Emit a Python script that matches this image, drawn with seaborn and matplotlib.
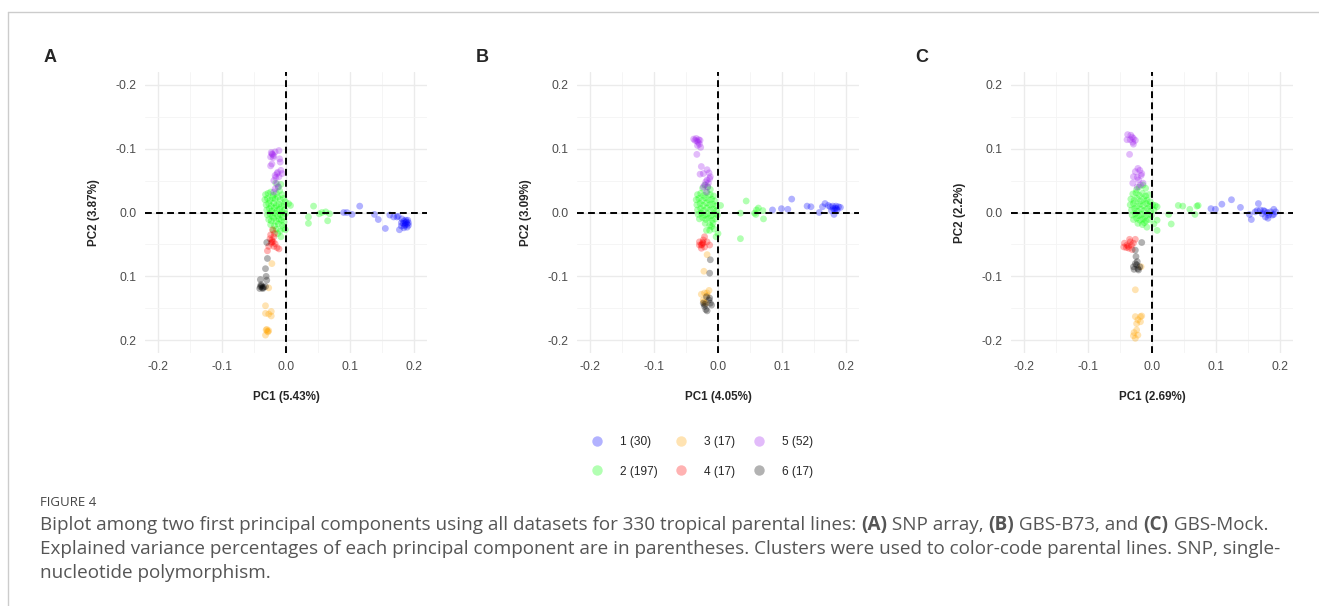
import pandas as pd
import seaborn as sns
import matplotlib.pyplot as plt
from matplotlib.lines import Line2D

# ---- cluster meta ----
CLUSTER_LABELS = ['1 (30)', '2 (197)', '3 (17)', '4 (17)', '5 (52)', '6 (17)']
CLUSTER_COLORS = ['#0000FF', '#00FF00', '#FFA500', '#FF0000', '#A020F0', '#000000']

PANEL_LETTERS = ['A', 'B', 'C']
PC1_LABELS = ['PC1 (5.43%)', 'PC1 (4.05%)', 'PC1 (2.69%)']
PC2_LABELS = ['PC2 (3.87%)', 'PC2 (3.09%)', 'PC2 (2.2%)']
TICKS = [-0.2, -0.1, 0.0, 0.1, 0.2]
TICK_LABELS = ['-0.2', '-0.1', '0.0', '0.1', '0.2']
MINOR_TICKS = [-0.15, -0.05, 0.05, 0.15]

# ---- panel A: SNP array (PC1, PC2) ----
A_1 = [(0.090, 0.000), (0.095, 0.000), (0.103, 0.003), (0.115, -0.010), (0.138, 0.003), (0.144, 0.011),
       (0.155, 0.025), (0.162, 0.004), (0.168, 0.007), (0.175, 0.006), (0.181, 0.010), (0.184, 0.013),
       (0.186, 0.016), (0.189, 0.018), (0.191, 0.016), (0.185, 0.021), (0.180, 0.021), (0.177, 0.027),
       (0.184, 0.024), (0.189, 0.023), (0.187, 0.012), (0.190, 0.012), (0.180, 0.016), (0.173, 0.007),
       (0.188, 0.015), (0.186, 0.019), (0.191, 0.020), (0.183, 0.017)]
A_2 = [(-0.032, -0.028), (-0.028, -0.030), (-0.024, -0.032), (-0.020, -0.027), (-0.015, -0.030), (-0.010, -0.034),
       (-0.006, -0.028), (-0.012, -0.040), (-0.008, -0.044), (-0.016, -0.046),
       (-0.033, -0.020), (-0.029, -0.022), (-0.025, -0.019), (-0.021, -0.023), (-0.017, -0.021), (-0.013, -0.024),
       (-0.009, -0.020), (-0.004, -0.022), (-0.001, -0.017),
       (-0.031, -0.012), (-0.027, -0.014), (-0.023, -0.010), (-0.019, -0.015), (-0.015, -0.011), (-0.011, -0.013),
       (-0.007, -0.010), (-0.003, -0.012), (0.004, -0.014),
       (-0.030, -0.004), (-0.026, -0.006), (-0.022, -0.002), (-0.018, -0.007), (-0.014, -0.003), (-0.010, -0.005),
       (-0.006, -0.001), (-0.002, -0.004),
       (-0.029, 0.004), (-0.025, 0.002), (-0.021, 0.006), (-0.017, 0.001), (-0.013, 0.005), (-0.009, 0.003),
       (-0.005, 0.007), (-0.001, 0.002),
       (-0.027, 0.011), (-0.023, 0.013), (-0.019, 0.009), (-0.015, 0.014), (-0.011, 0.010), (-0.007, 0.012),
       (-0.003, 0.015),
       (-0.024, 0.019), (-0.018, 0.021), (-0.012, 0.018), (-0.006, 0.020), (-0.015, 0.026), (-0.009, 0.029),
       (-0.020, 0.028), (-0.004, 0.025), (-0.008, 0.038), (-0.013, 0.033), (-0.001, 0.027),
       (0.007, -0.011), (0.043, -0.010), (0.035, 0.007), (0.035, 0.017), (0.052, 0.002), (0.056, 0.000),
       (0.062, -0.001), (0.068, 0.002), (0.065, 0.013)]
A_3 = [(-0.022, 0.080), (-0.027, 0.118), (-0.032, 0.146), (-0.032, 0.158), (-0.027, 0.159), (-0.023, 0.155),
       (-0.023, 0.162), (-0.030, 0.183), (-0.029, 0.186), (-0.032, 0.192), (-0.031, 0.184), (-0.027, 0.185),
       (-0.028, 0.187)]
A_4 = [(-0.021, 0.027), (-0.024, 0.035), (-0.019, 0.038), (-0.022, 0.043), (-0.023, 0.048), (-0.019, 0.053),
       (-0.014, 0.055), (-0.027, 0.053), (-0.020, 0.046), (-0.025, 0.041), (-0.018, 0.033), (-0.011, 0.057),
       (-0.029, 0.060), (-0.017, 0.049), (-0.022, 0.046)]
A_5 = [(-0.022, -0.092), (-0.019, -0.089), (-0.024, -0.087), (-0.017, -0.095), (-0.011, -0.097), (-0.021, -0.091),
       (-0.023, -0.094), (-0.020, -0.086), (-0.022, -0.076), (-0.024, -0.073), (-0.009, -0.079), (-0.010, -0.084),
       (-0.017, -0.058), (-0.014, -0.061), (-0.011, -0.056), (-0.006, -0.061), (-0.016, -0.055), (-0.013, -0.063),
       (-0.008, -0.066), (-0.019, -0.050), (-0.014, -0.045), (-0.017, -0.037), (-0.019, -0.032), (-0.012, -0.040)]
A_6 = [(-0.030, 0.047), (-0.029, 0.072), (-0.032, 0.088), (-0.040, 0.105), (-0.031, 0.100), (-0.030, 0.106),
       (-0.040, 0.116), (-0.038, 0.115), (-0.035, 0.117), (-0.041, 0.119), (-0.036, 0.119), (-0.032, 0.116),
       (-0.039, 0.113), (-0.037, 0.118)]

# ---- panel B: GBS-B73 ----
B_1 = [(0.085, 0.004), (0.099, 0.006), (0.109, 0.005), (0.115, 0.021), (0.139, 0.010), (0.145, 0.009),
       (0.158, 0.000), (0.163, 0.009), (0.167, 0.014), (0.172, 0.011), (0.175, 0.009), (0.180, 0.006),
       (0.182, 0.004), (0.185, 0.006), (0.188, 0.009), (0.191, 0.008), (0.181, -0.003), (0.177, 0.003),
       (0.184, 0.010), (0.186, 0.004), (0.183, 0.007), (0.179, 0.010)]
B_2 = [(-0.020, 0.043), (-0.016, 0.040), (-0.024, 0.038), (-0.012, 0.036),
       (-0.032, 0.028), (-0.027, 0.030), (-0.022, 0.027), (-0.017, 0.031), (-0.012, 0.028), (-0.007, 0.026),
       (-0.034, 0.020), (-0.030, 0.022), (-0.025, 0.019), (-0.020, 0.023), (-0.015, 0.020), (-0.010, 0.021),
       (-0.005, 0.018),
       (-0.033, 0.012), (-0.028, 0.014), (-0.023, 0.011), (-0.018, 0.015), (-0.013, 0.012), (-0.008, 0.013),
       (-0.003, 0.010), (0.004, 0.011),
       (-0.032, 0.004), (-0.027, 0.006), (-0.022, 0.003), (-0.017, 0.007), (-0.012, 0.004), (-0.007, 0.005),
       (-0.002, 0.003),
       (-0.031, -0.003), (-0.026, -0.001), (-0.021, -0.004), (-0.016, -0.002), (-0.011, -0.005), (-0.006, -0.002),
       (-0.001, -0.004),
       (-0.029, -0.010), (-0.024, -0.008), (-0.019, -0.011), (-0.014, -0.009), (-0.009, -0.012), (-0.004, -0.010),
       (-0.020, -0.017), (-0.013, -0.020), (-0.008, -0.017), (-0.018, -0.028), (-0.013, -0.028), (-0.010, -0.022),
       (-0.003, -0.038), (0.000, -0.033), (-0.006, -0.026),
       (0.044, 0.018), (0.035, -0.001), (0.057, -0.001), (0.060, 0.004), (0.063, 0.007), (0.070, 0.003),
       (0.071, -0.010), (0.035, -0.041), (0.059, -0.003)]
B_3 = [(-0.017, -0.066), (-0.022, -0.092), (-0.026, -0.128), (-0.021, -0.126), (-0.017, -0.126), (-0.014, -0.122),
       (-0.022, -0.140), (-0.023, -0.137), (-0.019, -0.142), (-0.017, -0.130)]
B_4 = [(-0.021, -0.038), (-0.029, -0.046), (-0.026, -0.051), (-0.023, -0.048), (-0.026, -0.056), (-0.017, -0.046),
       (-0.013, -0.051), (-0.023, -0.043), (-0.021, -0.054), (-0.029, -0.051), (-0.025, -0.050), (-0.024, -0.047)]
B_5 = [(-0.038, 0.115), (-0.034, 0.116), (-0.030, 0.114), (-0.031, 0.110), (-0.029, 0.107), (-0.027, 0.102),
       (-0.032, 0.105), (-0.033, 0.091), (-0.036, 0.113), (-0.028, 0.113), (-0.033, 0.112), (-0.026, 0.072),
       (-0.017, 0.067), (-0.014, 0.062), (-0.028, 0.060), (-0.023, 0.061), (-0.017, 0.051), (-0.019, 0.048),
       (-0.013, 0.053), (-0.012, 0.056), (-0.021, 0.043), (-0.016, 0.040), (-0.018, 0.032), (-0.023, 0.040),
       (-0.015, 0.046)]
B_6 = [(-0.012, -0.074), (-0.013, -0.095), (-0.013, -0.134), (-0.012, -0.142), (-0.010, -0.145), (-0.021, -0.144),
       (-0.021, -0.147), (-0.019, -0.152), (-0.017, -0.154), (-0.014, -0.137), (-0.018, -0.132), (-0.023, -0.142)]

# ---- panel C: GBS-Mock ----
C_1 = [(0.092, 0.006), (0.099, 0.005), (0.109, 0.013), (0.124, 0.020), (0.138, 0.008), (0.152, -0.003),
       (0.155, -0.011), (0.161, 0.001), (0.166, 0.014), (0.164, 0.003), (0.169, 0.004), (0.174, 0.003),
       (0.177, -0.007), (0.182, -0.004), (0.185, 0.001), (0.188, -0.004), (0.190, 0.005), (0.193, 0.001),
       (0.190, -0.003), (0.180, 0.000), (0.172, -0.002), (0.181, -0.009), (0.176, 0.002)]
C_2 = [(-0.020, 0.040), (-0.014, 0.043), (-0.024, 0.036), (-0.010, 0.038),
       (-0.030, 0.029), (-0.025, 0.031), (-0.020, 0.027), (-0.015, 0.030), (-0.010, 0.026), (-0.005, 0.028),
       (-0.033, 0.021), (-0.028, 0.019), (-0.023, 0.022), (-0.018, 0.018), (-0.013, 0.021), (-0.008, 0.019),
       (-0.003, 0.017),
       (-0.034, 0.012), (-0.029, 0.014), (-0.024, 0.010), (-0.019, 0.013), (-0.014, 0.011), (-0.009, 0.014),
       (-0.004, 0.010), (0.001, 0.012), (0.005, 0.011), (0.008, 0.009),
       (-0.032, 0.004), (-0.027, 0.006), (-0.022, 0.002), (-0.017, 0.005), (-0.012, 0.003), (-0.007, 0.006),
       (-0.002, 0.002), (0.003, 0.004),
       (-0.031, -0.004), (-0.026, -0.002), (-0.021, -0.005), (-0.016, -0.003), (-0.011, -0.006), (-0.006, -0.003),
       (-0.001, -0.005),
       (-0.029, -0.011), (-0.024, -0.009), (-0.019, -0.012), (-0.014, -0.010), (-0.009, -0.013), (-0.004, -0.011),
       (-0.022, -0.017), (-0.015, -0.019), (-0.008, -0.023), (-0.012, -0.016), (0.008, -0.012), (0.008, -0.028),
       (0.003, -0.018), (0.026, -0.003), (0.030, -0.018),
       (0.041, 0.011), (0.048, 0.010), (0.059, 0.005), (0.067, -0.003), (0.070, 0.010), (0.072, 0.011)]
C_3 = [(-0.026, -0.121), (-0.017, -0.085), (-0.026, -0.163), (-0.016, -0.162), (-0.018, -0.163), (-0.022, -0.168),
       (-0.018, -0.171), (-0.024, -0.174), (-0.028, -0.188), (-0.022, -0.192), (-0.026, -0.197), (-0.029, -0.193),
       (-0.024, -0.184)]
C_4 = [(-0.043, -0.048), (-0.035, -0.042), (-0.026, -0.042), (-0.040, -0.055), (-0.036, -0.056), (-0.032, -0.051),
       (-0.039, -0.051), (-0.031, -0.058), (-0.029, -0.048), (-0.034, -0.046), (-0.044, -0.054), (-0.037, -0.053)]
C_5 = [(-0.038, 0.122), (-0.033, 0.121), (-0.039, 0.114), (-0.034, 0.114), (-0.029, 0.116), (-0.030, 0.110),
       (-0.026, 0.113), (-0.029, 0.107), (-0.035, 0.091), (-0.031, 0.118), (-0.022, 0.069), (-0.019, 0.066),
       (-0.026, 0.064), (-0.017, 0.058), (-0.023, 0.055), (-0.029, 0.056), (-0.021, 0.051), (-0.030, 0.046),
       (-0.018, 0.043), (-0.014, 0.046), (-0.023, 0.040), (-0.016, 0.061)]
C_6 = [(-0.016, -0.047), (-0.026, -0.059), (-0.025, -0.069), (-0.026, -0.080), (-0.029, -0.085), (-0.024, -0.082),
       (-0.022, -0.088), (-0.019, -0.085), (-0.021, -0.090), (-0.028, -0.089), (-0.023, -0.077)]

PANELS = [[A_1, A_2, A_3, A_4, A_5, A_6],
          [B_1, B_2, B_3, B_4, B_5, B_6],
          [C_1, C_2, C_3, C_4, C_5, C_6]]

CAPTION_HEAD = 'FIGURE 4'
CAPTION_LINE1 = [('Biplot among two first principal components using all datasets for 330 tropical parental lines: ', 'normal'),
                 ('(A)', 'bold'), (' SNP array, ', 'normal'), ('(B)', 'bold'), (' GBS-B73, and ', 'normal'),
                 ('(C)', 'bold'), (' GBS-Mock.', 'normal')]
CAPTION_LINE2 = ('Explained variance percentages of each principal component are in parentheses. '
                 'Clusters were used to color-code parental lines. SNP, single-')
CAPTION_LINE3 = 'nucleotide polymorphism.'


def make_df(groups):
    rows = []
    for label, pts in zip(CLUSTER_LABELS, groups):
        for x, y in pts:
            rows.append((x, y, label))
    return pd.DataFrame(rows, columns=['PC1', 'PC2', 'Cluster'])


sns.set_style('white')
plt.rcParams['font.family'] = ['Liberation Sans', 'DejaVu Sans']
plt.rcParams['axes.unicode_minus'] = False

W, H = 1319, 606
fig = plt.figure(figsize=(W / 100, H / 100), dpi=100)

lefts = [145 / W, 577 / W, 1011 / W]
palette = dict(zip(CLUSTER_LABELS, CLUSTER_COLORS))

for i, groups in enumerate(PANELS):
    ax = fig.add_axes([lefts[i], 1 - 353 / H, 282 / W, 281 / H])
    df = make_df(groups)
    ax.set_axisbelow(True)
    sns.scatterplot(data=df, x='PC1', y='PC2', hue='Cluster', palette=palette, s=24, alpha=0.3,
                    linewidth=0, legend=False, ax=ax, zorder=3)
    ax.axhline(0, color='black', lw=1.4, ls=(0, (3.5, 2.2)), zorder=4)
    ax.axvline(0, color='black', lw=1.4, ls=(0, (3.5, 2.2)), zorder=4)
    ax.set_xlim(-0.22, 0.22)
    if i == 0:
        ax.set_ylim(0.22, -0.22)   # panel A has PC2 flipped
    else:
        ax.set_ylim(-0.22, 0.22)
    ax.set_xticks(TICKS)
    ax.set_xticklabels(TICK_LABELS)
    ax.set_yticks(TICKS)
    ax.set_yticklabels(TICK_LABELS)
    ax.set_xticks(MINOR_TICKS, minor=True)
    ax.set_yticks(MINOR_TICKS, minor=True)
    ax.grid(which='major', color='#ebebeb', lw=1.0)
    ax.grid(which='minor', color='#f4f4f4', lw=0.6)
    ax.tick_params(which='both', length=0, labelsize=8.7, labelcolor='#4d4d4d', pad=6)
    for sp in ax.spines.values():
        sp.set_visible(False)
    ax.set_xlabel(PC1_LABELS[i], fontsize=8.4, fontweight='bold', labelpad=13)
    ax.set_ylabel(PC2_LABELS[i], fontsize=8.4, fontweight='bold', labelpad=11)

letter_x = [44, 476, 915]
for lx, letter in zip(letter_x, PANEL_LETTERS):
    fig.text(lx / W, 1 - 62 / H, letter, fontsize=13, fontweight='bold', va='baseline', ha='left')

handles = [Line2D([], [], marker='o', ls='', markersize=7.5, color=c, alpha=0.3, markeredgewidth=0)
           for c in CLUSTER_COLORS]
fig.legend(handles, CLUSTER_LABELS, ncol=3, loc='center', bbox_to_anchor=(699 / W, 1 - 457 / H),
           frameon=False, fontsize=8.6, handletextpad=0.9, columnspacing=1.0, labelspacing=1.45)

# frame lines
fig.add_artist(Line2D([8 / W, 1], [1 - 12 / H, 1 - 12 / H], color='#cccccc', lw=1, transform=fig.transFigure))
fig.add_artist(Line2D([8 / W, 8 / W], [0, 1 - 12 / H], color='#cccccc', lw=1, transform=fig.transFigure))

# caption (line 1 is chained so the bold panel refs sit inline)
cap_font = ['Open Sans', 'DejaVu Sans']
cap_color = '#555555'
cap_size = 13.6
fig.text(40 / W, 1 - 503 / H, CAPTION_HEAD, fontsize=9.5, color='#444444', family=cap_font, va='center')
anchor_ax = fig.axes[0]
prev = None
for txt, wt in CAPTION_LINE1:
    if prev is None:
        prev = fig.text(40 / W, 1 - 525 / H, txt, fontsize=cap_size, color=cap_color, family=cap_font,
                        fontweight=wt, va='center')
    else:
        prev = anchor_ax.annotate(txt, xy=(1, 0.5), xycoords=prev, va='center', ha='left', fontsize=cap_size,
                                  color=cap_color, family=cap_font, fontweight=wt, annotation_clip=False)
fig.text(40 / W, 1 - 549 / H, CAPTION_LINE2, fontsize=cap_size, color=cap_color, family=cap_font, va='center')
fig.text(40 / W, 1 - 573 / H, CAPTION_LINE3, fontsize=cap_size, color=cap_color, family=cap_font, va='center')

fig.savefig('out.png', dpi=100)
